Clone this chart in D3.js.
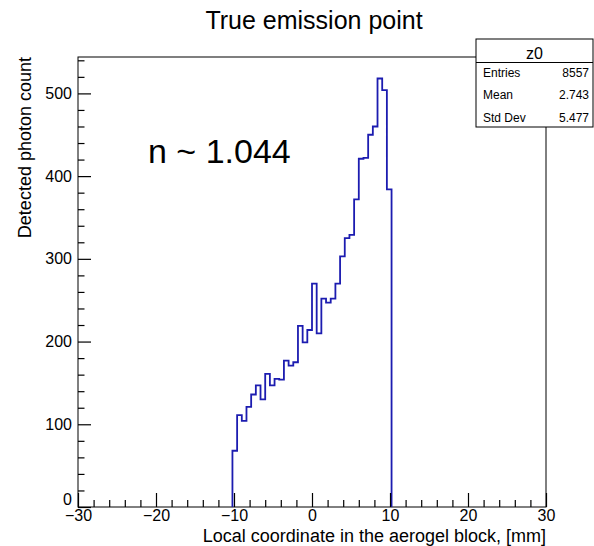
<!DOCTYPE html>
<html>
<head>
<meta charset="utf-8">
<script src="https://cdn.jsdelivr.net/npm/d3@7"></script>
<style>
  body { margin: 0; background: #fff; }
  text { font-family: "Liberation Sans", Arial, sans-serif; }
</style>
</head>
<body>
<div id="chart"></div>
<script>
// histogram z0: 100 bins over [-30, 30], only bins inside [-10.2, 10.2] are filled
let binLow = -10.2;
let binWidth = 0.6;
let counts = [68, 111, 104, 121, 136, 147, 130, 161, 147, 155, 154, 177, 171, 175,
              219, 199, 214, 270, 210, 252, 247, 252, 270, 303, 325, 329, 372, 421,
              422, 450, 460, 518, 504, 384];

let xMajor = [-30, -20, -10, 0, 10, 20, 30];
let xMinor = [-28, -26, -24, -22, -18, -16, -14, -12, -8, -6, -4, -2,
              2, 4, 6, 8, 12, 14, 16, 18, 22, 24, 26, 28];
let yMajor = [0, 100, 200, 300, 400, 500];
let yMinor = [20, 40, 60, 80, 120, 140, 160, 180, 220, 240, 260, 280,
              320, 340, 360, 380, 420, 440, 460, 480, 520, 540];

let statNames = ["Entries", "Mean", "Std Dev"];
let statValues = ["8557", "2.743", "5.477"];

let width = 594;
let height = 546;
let frame = {left: 78, right: 546, top: 57, bottom: 507};

let svg = d3.select("#chart")
  .append("svg")
  .attr("width", width)
  .attr("height", height);

let x = d3.scaleLinear().domain([-30, 30]).range([frame.left, frame.right]);
let y = d3.scaleLinear().domain([0, 544]).range([frame.bottom, frame.top]);

// frame
svg.append("rect")
  .attr("x", frame.left)
  .attr("y", frame.top)
  .attr("width", frame.right - frame.left)
  .attr("height", frame.bottom - frame.top)
  .attr("fill", "none")
  .attr("stroke", "#000")
  .attr("stroke-width", 1);

// histogram outline as steps
let pts = [[x(binLow), y(0)]];
counts.forEach(function(c, i) {
  let x0 = binLow + i * binWidth;
  pts.push([x(x0), y(c)]);
  pts.push([x(x0 + binWidth), y(c)]);
});
pts.push([x(binLow + counts.length * binWidth), y(0)]);

svg.append("path")
  .attr("d", d3.line()(pts))
  .attr("fill", "none")
  .attr("stroke", "#1c1cb0")
  .attr("stroke-width", 1.8);

// x axis (ticks pointing up into the frame)
svg.append("g")
  .attr("transform", "translate(0," + frame.bottom + ")")
  .call(d3.axisBottom(x).tickValues(xMajor).tickSize(-14).tickSizeOuter(0).tickPadding(3));
svg.append("g")
  .attr("transform", "translate(0," + frame.bottom + ")")
  .call(d3.axisBottom(x).tickValues(xMinor).tickSize(-7).tickSizeOuter(0).tickFormat(""));

// y axis (ticks pointing right)
let gy = svg.append("g")
  .attr("transform", "translate(" + frame.left + ",0)")
  .call(d3.axisLeft(y).tickValues(yMajor).tickSize(-13).tickSizeOuter(0).tickPadding(6));
svg.append("g")
  .attr("transform", "translate(" + frame.left + ",0)")
  .call(d3.axisLeft(y).tickValues(yMinor).tickSize(-6.5).tickSizeOuter(0).tickFormat(""));

svg.selectAll(".domain").remove();
svg.selectAll(".tick line").attr("stroke", "#000").attr("stroke-width", 1.2);
svg.selectAll(".tick text")
  .attr("font-family", "Liberation Sans, Arial, sans-serif")
  .attr("font-size", 16)
  .attr("fill", "#000");

// the zero label sits a bit above the corner, like ROOT does
gy.selectAll(".tick text").filter(function(d) { return d === 0; }).attr("dy", "-0.15em");

// titles
svg.append("text")
  .attr("x", 314)
  .attr("y", 29)
  .attr("text-anchor", "middle")
  .attr("font-size", 25)
  .text("True emission point");

svg.append("text")
  .attr("x", frame.right)
  .attr("y", 542)
  .attr("text-anchor", "end")
  .attr("font-size", 18)
  .text("Local coordinate in the aerogel block, [mm]");

svg.append("text")
  .attr("transform", "translate(31," + frame.top + ") rotate(-90)")
  .attr("text-anchor", "end")
  .attr("font-size", 18)
  .text("Detected photon count");

svg.append("text")
  .attr("x", 148)
  .attr("y", 163)
  .attr("font-size", 34)
  .text("n ~ 1.044");

// stats box
let box = {x: 476, y: 39, w: 117, h: 88, head: 23.5};
svg.append("rect")
  .attr("x", box.x)
  .attr("y", box.y)
  .attr("width", box.w)
  .attr("height", box.h)
  .attr("fill", "#fff")
  .attr("stroke", "#000");
svg.append("line")
  .attr("x1", box.x).attr("x2", box.x + box.w)
  .attr("y1", box.y + box.head).attr("y2", box.y + box.head)
  .attr("stroke", "#000");
svg.append("text")
  .attr("x", box.x + box.w / 2)
  .attr("y", box.y + 20)
  .attr("text-anchor", "middle")
  .attr("font-size", 16)
  .text("z0");

svg.selectAll(".statName")
  .data(statNames)
  .enter()
  .append("text")
  .attr("x", box.x + 7)
  .attr("y", function(d, i) { return 77 + i * 22.3; })
  .attr("font-size", 12)
  .text(function(d) { return d; });

svg.selectAll(".statValue")
  .data(statValues)
  .enter()
  .append("text")
  .attr("x", box.x + box.w - 4)
  .attr("y", function(d, i) { return 77 + i * 22.3; })
  .attr("text-anchor", "end")
  .attr("font-size", 12)
  .text(function(d) { return d; });
</script>
</body>
</html>
